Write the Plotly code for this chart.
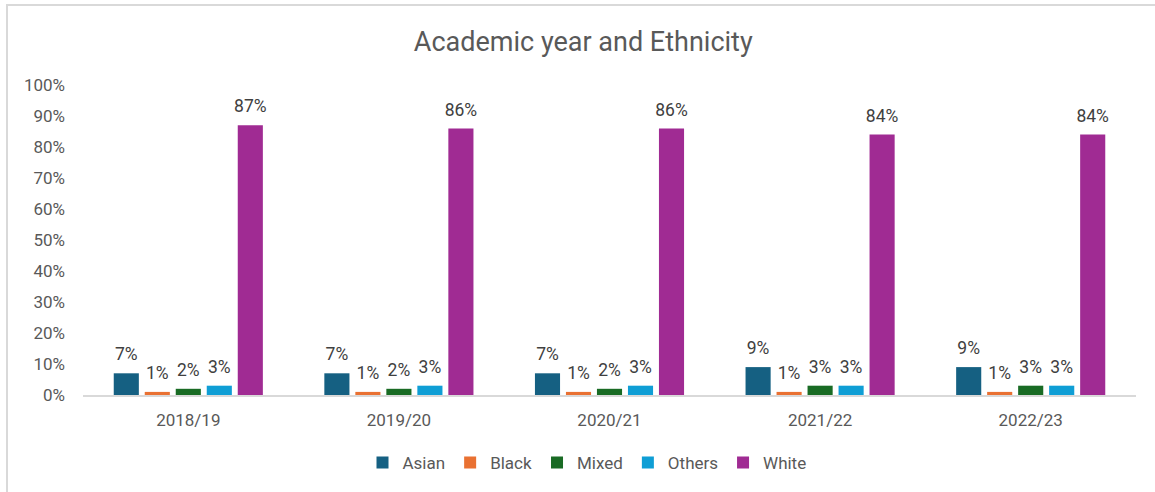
import plotly.graph_objects as go

# Academic years on the category axis
years = ["2018/19", "2019/20", "2020/21", "2021/22", "2022/23"]

# Share of students by ethnicity (fraction of total)
asian = [0.07, 0.07, 0.07, 0.09, 0.09]
black = [0.01, 0.01, 0.01, 0.01, 0.01]
mixed = [0.02, 0.02, 0.02, 0.03, 0.03]
others = [0.03, 0.03, 0.03, 0.03, 0.03]
white = [0.87, 0.86, 0.86, 0.84, 0.84]

y_ticks = [i / 10 for i in range(11)]

series = [
    ("Asian", asian, "#156082"),
    ("Black", black, "#E97132"),
    ("Mixed", mixed, "#196B24"),
    ("Others", others, "#0F9ED5"),
    ("White", white, "#A02B93"),
]

FONT = "Roboto, 'Open Sans', sans-serif"
TXT = "#595959"
GAP = 0.264

fig = go.Figure()
for name, vals, color in series:
    fig.add_trace(go.Bar(
        name=name, x=years, y=vals, offsetgroup=name,
        marker=dict(color=color, line=dict(width=0)),
        hovertemplate="%{x}<br>" + name + ": %{y:.0%}<extra></extra>",
    ))

# Value labels: grouped text points sitting above each bar
for name, vals, color in series:
    fig.add_trace(go.Scatter(
        x=years, y=vals, offsetgroup=name, mode="markers+text",
        marker=dict(size=12, opacity=0),
        texttemplate="%{y:.0%}", textposition="top center",
        textfont=dict(family=FONT, size=17.5, color="#404040"),
        showlegend=False, hoverinfo="skip", cliponaxis=False,
    ))

W, H = 1155, 492
L, R, T, B = 83, 19, 85, 97
pw, ph = W - L - R, H - T - B


def px_x(x):
    return (x - L) / pw


def px_y(y):
    return (H - B - y) / ph


fig.update_layout(
    width=W, height=H,
    margin=dict(l=L, r=R, t=T, b=B, autoexpand=False),
    paper_bgcolor="white", plot_bgcolor="white",
    barmode="group", bargap=GAP, bargroupgap=0.19,
    scattermode="group", scattergap=GAP,
    title=dict(text="Academic year and Ethnicity", x=0.505, xanchor="center",
               y=1 - 42 / H, yanchor="middle",
               font=dict(family=FONT, size=27, color=TXT)),
    font=dict(family=FONT, size=17, color=TXT),
    xaxis=dict(showline=True, linecolor="#D9D9D9", linewidth=1.5,
               ticks="", showgrid=False, tickfont=dict(size=17, color=TXT),
               ticklabelstandoff=9),
    yaxis=dict(range=[0, 1], tickvals=y_ticks, tickformat=".0%",
               showgrid=False, zeroline=False, showline=False, ticks="",
               tickfont=dict(size=17, color=TXT), ticklabelstandoff=17),
    legend=dict(orientation="h", x=px_x(587), xanchor="center",
                y=px_y(463), yanchor="middle",
                font=dict(size=17, color=TXT), traceorder="normal",
                itemwidth=30),
    showlegend=True,
)

# Chart frame (left and top edges visible)
fig.add_shape(type="rect", xref="paper", yref="paper",
              x0=px_x(7), x1=px_x(1170), y0=px_y(505), y1=px_y(5),
              line=dict(color="#D9D9D9", width=2), layer="below")

fig.write_html("out.html")
